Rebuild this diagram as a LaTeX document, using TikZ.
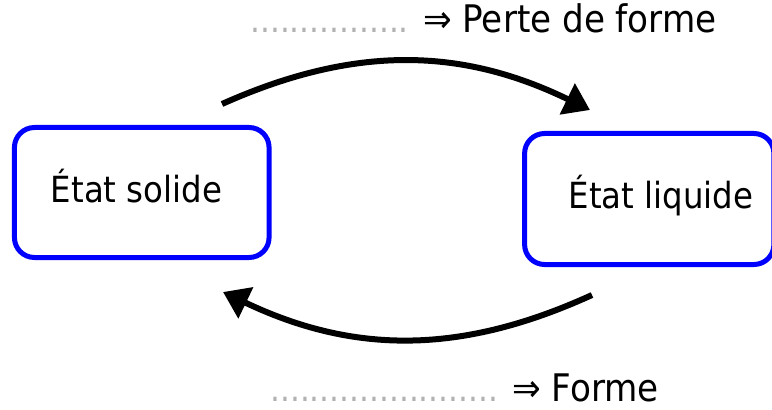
\documentclass[tikz,border=0pt]{standalone}
\usepackage{fontspec}
\setmainfont{DejaVu Sans Condensed}
\usetikzlibrary{arrows.meta}

\newcommand{\pointilles}[1]{\textcolor{black!30}{\fontsize{26}{31}\selectfont #1}}

\begin{document}
\begin{tikzpicture}[x=0.75pt,y=-0.75pt,
	boite/.style={draw=blue, line width=3.75pt, rounded corners=15pt, inner sep=0pt},
	texte/.style={font=\fontsize{27}{32}\selectfont, inner sep=0pt, anchor=base},
	legende/.style={font=\fontsize{28.5}{34}\selectfont, inner sep=0pt, anchor=base west},
	fleche/.style={line width=4.5pt, -{Triangle[length=19pt,width=25pt]}, bend left=25}]
	\useasboundingbox (0,0) rectangle (772,410);

	\node[boite, minimum width=191pt, minimum height=97.5pt] (solide) at (141.75,192.5) {};
	\node[boite, minimum width=187pt, minimum height=98.25pt] (liquide) at (649.25,199) {};

	\node[texte] (tsolide) at (136.5,202) {État solide};
	\node[texte] (tliquide) at (661,209) {État liquide};

	\node[legende] (perte) at (250,33) {\pointilles{................} ⇒ Perte de forme};
	\node[legende] (forme) at (270,401) {\pointilles{.......................} ⇒ Forme};

	\coordinate (depart1) at (222,104);
	\coordinate (arrivee1) at (590,110);
	\coordinate (depart2) at (592,295);
	\coordinate (arrivee2) at (223,292);

	\draw[fleche] (depart1) to (arrivee1);
	\draw[fleche] (depart2) to (arrivee2);
\end{tikzpicture}
\end{document}
